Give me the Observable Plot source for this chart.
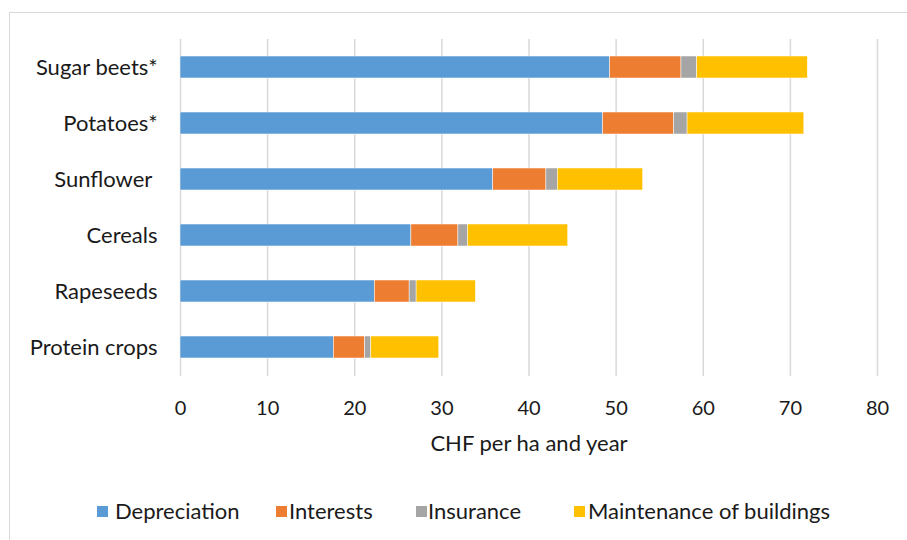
<!DOCTYPE html>
<html>
<head>
<meta charset="utf-8">
<script src="https://cdn.jsdelivr.net/npm/d3@7"></script>
<script src="https://cdn.jsdelivr.net/npm/@observablehq/plot@0.6"></script>
<style>
  html, body { margin: 0; padding: 0; background: #fff; }
  #wrap { position: relative; width: 907px; height: 540px; overflow: hidden; font-family: Lato, "Liberation Sans", sans-serif; }
  #frame { position: absolute; left: 9px; top: 12px; width: 920px; height: 540px; border-top: 1.4px solid #d9d9d9; border-left: 1.4px solid #d9d9d9; }
  #chart { position: absolute; left: 0; top: 0; }
  .sw { position: absolute; top: 506px; width: 11px; height: 11px; }
  .lt { position: absolute; top: 499px; font-size: 22px; color: #1a1a1a; white-space: nowrap; line-height: 24px; }
</style>
</head>
<body>
<div id="wrap">
  <div id="frame"></div>
  <div id="chart"></div>
</div>
<script>
const categories = ["Sugar beets*", "Potatoes*", "Sunflower\u00a0", "Cereals", "Rapeseeds", "Protein crops"];
const seriesNames = ["Depreciation", "Interests", "Insurance", "Maintenance of buildings"];
const seriesColors = ["#5B9BD5", "#ED7D31", "#A5A5A5", "#FFC000"];
const depreciation = [49.3, 48.5, 35.9, 26.5, 22.3, 17.6];
const interests    = [8.2, 8.15, 6.1, 5.4, 4.0, 3.6];
const insurance    = [1.8, 1.55, 1.3, 1.1, 0.8, 0.7];
const maintenance  = [12.7, 13.4, 9.8, 11.5, 6.8, 7.8];
const xTicks = [0, 10, 20, 30, 40, 50, 60, 70, 80];

const seriesValues = [depreciation, interests, insurance, maintenance];
const data = [];
seriesNames.forEach((s, si) => {
  categories.forEach((c, ci) => data.push({category: c, series: s, value: seriesValues[si][ci]}));
});

const chart = Plot.plot({
  width: 907,
  height: 540,
  marginLeft: 180,
  marginRight: 30,
  marginTop: 39,
  marginBottom: 164,
  style: {fontFamily: "Lato, 'Liberation Sans', sans-serif", fontSize: "20px", color: "#1a1a1a", background: "transparent"},
  x: {domain: [0, 80], ticks: xTicks},
  y: {domain: categories, paddingInner: 0.6, paddingOuter: 0.3},
  color: {domain: seriesNames, range: seriesColors},
  marks: [
    Plot.gridX(xTicks, {stroke: "#d9d9d9", strokeOpacity: 1, strokeWidth: 1.5}),
    Plot.barX(data, Plot.stackX({y: "category", x: "value", fill: "series", stroke: "white", strokeWidth: 0.5, order: seriesNames})),
    Plot.axisX(xTicks, {tickSize: 0, tickPadding: 24, fontSize: 20, label: null, tickFormat: d => String(d)}),
    Plot.axisX({tickSize: 0, ticks: [], fontSize: 22, label: "CHF per ha and year", labelAnchor: "center", labelArrow: "none", labelOffset: 74}),
    Plot.axisY({tickSize: 0, tickPadding: 23, fontSize: 22, label: null})
  ]
});
document.getElementById("chart").appendChild(chart);

const swatchX = [97, 276, 416, 574];
const textX = [115, 289, 428, 588];
const wrap = document.getElementById("wrap");
seriesNames.forEach((s, i) => {
  const sw = document.createElement("div");
  sw.className = "sw";
  sw.style.left = swatchX[i] + "px";
  sw.style.background = seriesColors[i];
  wrap.appendChild(sw);
  const t = document.createElement("div");
  t.className = "lt";
  t.style.left = textX[i] + "px";
  t.textContent = s;
  wrap.appendChild(t);
});
</script>
</body>
</html>
